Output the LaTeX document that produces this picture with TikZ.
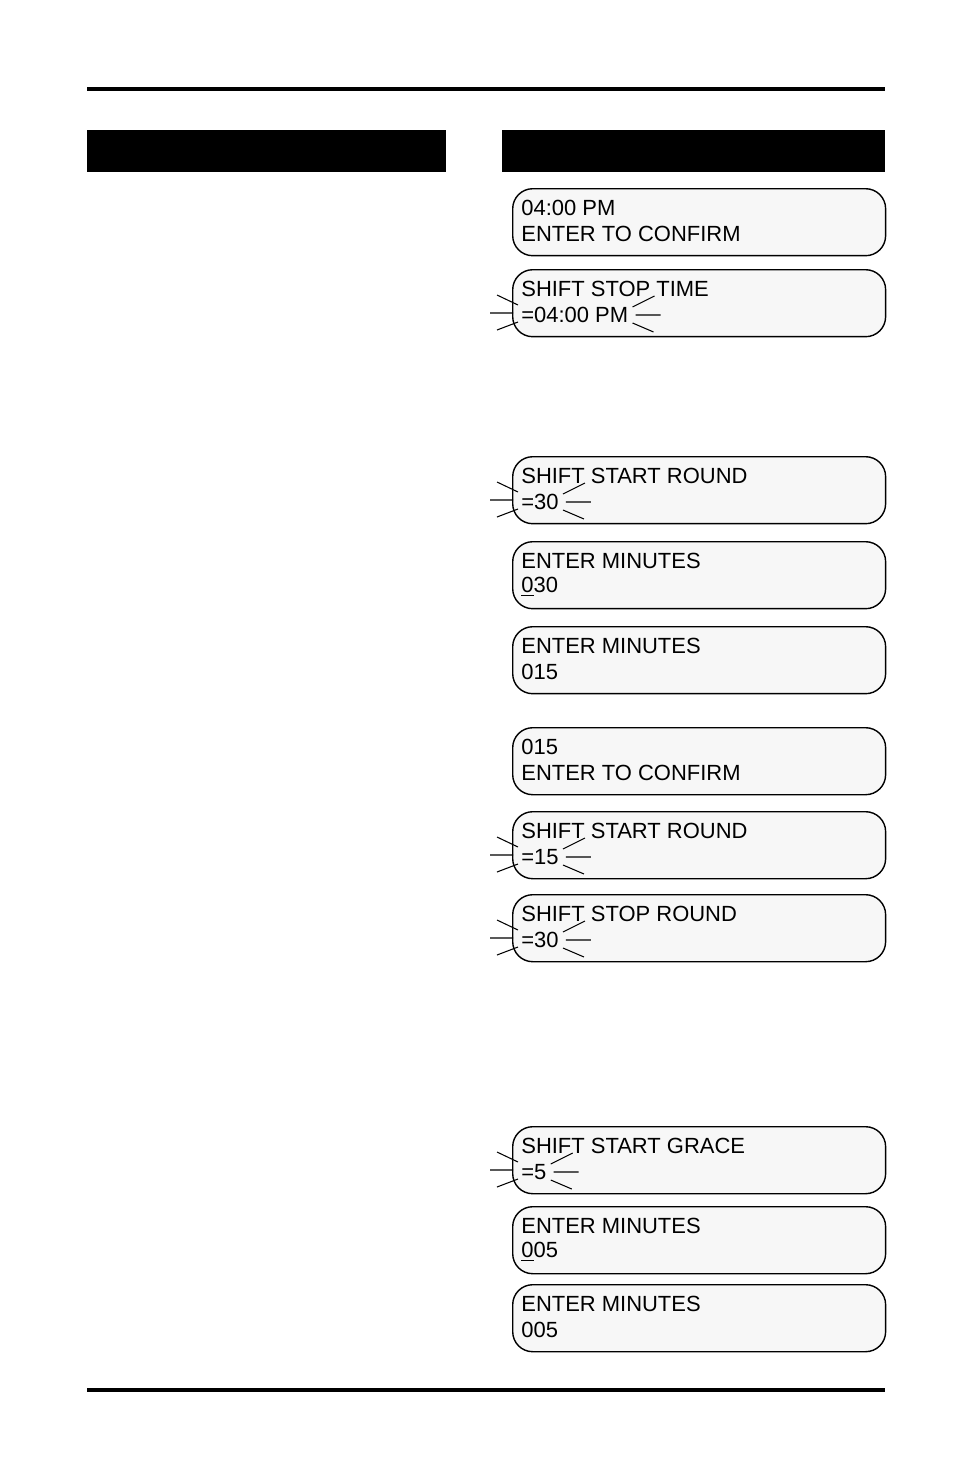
\documentclass[tikz,border=0pt]{standalone}
\usepackage{fontspec}
\setmainfont{Liberation Sans}
\usetikzlibrary{positioning}
\tikzset{
  lcdbox/.style={draw,line width=0.8pt,fill=black!3,rounded corners=0.4cm,minimum width=7.46cm,minimum height=1.34cm,anchor=north west,inner sep=0},
  lcdtxt/.style={anchor=west,inner sep=0,font=\fontsize{12.5}{14}\selectfont},
  ray/.style={line width=0.6pt}
}
% one display: name, top y (px), two lines
\newcommand{\lcd}[4]{%
  \node[lcdbox] (#1) at (512,#2) {};
  \node[lcdtxt] (#1a) at (521,#2+20) {#3};
  \node[lcdtxt] (#1b) at (521,#2+46) {#4};}
% flashing marks round line two
\newcommand{\flash}[1]{%
  \draw[ray] ([shift={(-24,-20)}]#1b.west) -- ([shift={(-3,-10)}]#1b.west)
             ([shift={(-31,-2)}]#1b.west) -- ([shift={(-8,-2)}]#1b.west)
             ([shift={(-24,15)}]#1b.west) -- ([shift={(-3,7)}]#1b.west)
             ([shift={(4,-8)}]#1b.east) -- ([shift={(26,-19)}]#1b.east)
             ([shift={(7,0)}]#1b.east) -- ([shift={(32,0)}]#1b.east)
             ([shift={(4,8)}]#1b.east) -- ([shift={(25,17)}]#1b.east);}
\begin{document}
\begin{tikzpicture}[x=0.02cm,y=-0.02cm]
  \useasboundingbox (0,0) rectangle (954,1475);
  \fill (87,87) rectangle (885,91);
  \fill (87,1388) rectangle (885,1392);
  \fill (87,130) rectangle (446,172);
  \fill (502,130) rectangle (885,172);

  \lcd{conf}{188}{04:00 PM}{ENTER TO CONFIRM}
  \lcd{stoptime}{269}{SHIFT STOP TIME}{=04:00 PM}
  \flash{stoptime}
  \lcd{startrnd}{456}{SHIFT START ROUND}{=30}
  \flash{startrnd}
  \lcd{minA}{541}{ENTER MINUTES}{\underline{0}30}
  \lcd{minB}{626}{ENTER MINUTES}{015}
  \lcd{confB}{727}{015}{ENTER TO CONFIRM}
  \lcd{startrndB}{811}{SHIFT START ROUND}{=15}
  \flash{startrndB}
  \lcd{stoprnd}{894}{SHIFT STOP ROUND}{=30}
  \flash{stoprnd}
  \lcd{grace}{1126}{SHIFT START GRACE}{=5}
  \flash{grace}
  \lcd{minC}{1206}{ENTER MINUTES}{\underline{0}05}
  \lcd{minD}{1284}{ENTER MINUTES}{005}
\end{tikzpicture}
\end{document}
